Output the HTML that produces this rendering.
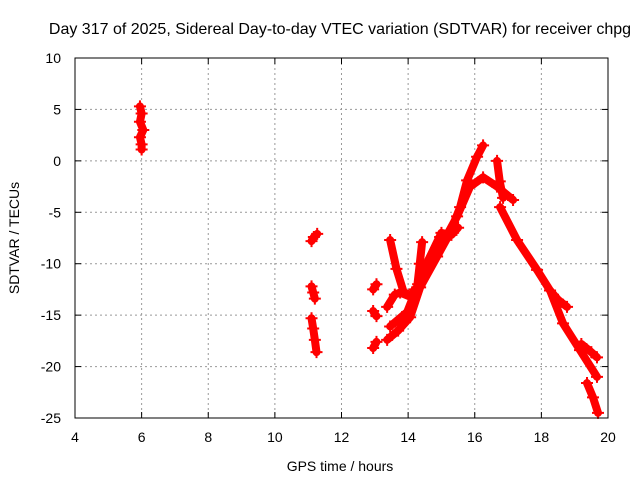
<!DOCTYPE html>
<html><head><meta charset="utf-8"><style>
body{margin:0;background:#fff}
svg{display:block;font-family:"Liberation Sans",sans-serif}
</style></head><body>
<svg id="c" width="640" height="480">
<rect width="640" height="480" fill="#fff"/>
<text x="340" y="34" font-size="16" text-anchor="middle">Day 317 of 2025, Sidereal Day-to-day VTEC variation (SDTVAR) for receiver chpg</text>
<g id="grid"></g><g id="data"></g>
<rect x="75" y="58" width="533" height="360" fill="none" stroke="#000" stroke-width="1"/>
<g id="ticks"></g>
<text x="340" y="471" font-size="14" text-anchor="middle">GPS time / hours</text>
<text transform="translate(19,238) rotate(-90)" font-size="14" text-anchor="middle">SDTVAR / TECUs</text>
</svg>
<script>
const xTicks=[4,6,8,10,12,14,16,18,20];
const yTicks=[10,5,0,-5,-10,-15,-20,-25];
const trackH6=[[5.95,5.3],[6.0,4.6],[5.95,3.8],[6.05,3.0],[5.95,2.3],[6.0,1.6],[6.0,1.1]];
const trackH11a=[[11.1,-7.8],[11.17,-7.4],[11.27,-7.1]];
const trackH11b=[[11.1,-12.2],[11.15,-12.8],[11.2,-13.4]];
const trackH11c=[[11.1,-15.3],[11.15,-16.3],[11.2,-17.4],[11.25,-18.6]];
const blob1=[[12.95,-12.5],[13.05,-12.0]];
const blob2=[[12.95,-14.6],[13.05,-15.1]];
const blob3=[[12.95,-18.2],[13.05,-17.6]];
const rise1=[[13.37,-17.4],[13.7,-16.5],[14.06,-15.2],[14.36,-12.3],[14.87,-9.3],[15.26,-7.0],[15.56,-4.5],[15.77,-1.9],[16.07,0.4],[16.25,1.5]];
const rise2=[[13.46,-16.1],[13.97,-14.7],[14.3,-12.0],[14.57,-9.9],[14.96,-7.4],[15.2,-7.0],[15.47,-5.4],[15.86,-2.5],[16.25,-1.6],[16.67,-2.5],[17.15,-3.8]];
const loop1=[[13.37,-14.2],[13.6,-13.0],[13.76,-12.8],[14.06,-13.2],[14.2,-12.5]];
const spike1=[[13.46,-7.7],[13.65,-10.5],[13.85,-12.6]];
const spike2=[[14.42,-7.9],[14.35,-10.0],[14.27,-12.3]];
const branchA=[[14.6,-9.7],[15.0,-7.0],[15.3,-7.2],[15.5,-6.5]];
const spike3=[[16.67,0.0],[16.75,-2.0],[16.85,-3.6]];
const fall=[[16.76,-4.5],[17.27,-7.7],[17.87,-10.6],[18.26,-12.6],[18.65,-15.8],[19.16,-18.4],[19.67,-21.0]];
const branchB=[[18.26,-12.6],[18.5,-13.5],[18.77,-14.2]];
const branchC=[[19.2,-17.8],[19.5,-18.6],[19.67,-19.1]];
const tail=[[19.37,-21.6],[19.55,-23.0],[19.7,-24.5]];
const tracks=[trackH6,trackH11a,trackH11b,trackH11c,blob1,blob2,blob3,rise1,rise2,loop1,spike1,spike2,branchA,spike3,fall,branchB,branchC,tail];
const X=h=>75+(h-4)*533/16, Y=v=>58+(10-v)*360/35;
const NS="http://www.w3.org/2000/svg";
const mk=(t,a,p)=>{const e=document.createElementNS(NS,t);for(const k in a)e.setAttribute(k,a[k]);p.appendChild(e);return e;};
const g=document.getElementById('grid'),tk=document.getElementById('ticks'),d=document.getElementById('data');
xTicks.forEach(t=>{const x=X(t);
 if(t>4&&t<20){const l=mk('line',{x1:x,x2:x,y1:58,y2:418,stroke:'#999','stroke-dasharray':'2,3'},g);
 
 }
 mk('line',{x1:x,x2:x,y1:418,y2:412,stroke:'#000'},tk);mk('line',{x1:x,x2:x,y1:58,y2:64,stroke:'#000'},tk);
 const s=mk('text',{x:x,y:442,'font-size':14,'text-anchor':'middle'},tk);s.textContent=t;
 
 });
yTicks.forEach(t=>{const y=Y(t);
 if(t<10&&t>-25){const l=mk('line',{x1:75,x2:608,y1:y,y2:y,stroke:'#999','stroke-dasharray':'2,3'},g);
 
 }
 mk('line',{x1:75,x2:81,y1:y,y2:y,stroke:'#000'},tk);mk('line',{x1:608,x2:602,y1:y,y2:y,stroke:'#000'},tk);
 const s=mk('text',{x:61,y:y+5,'font-size':14,'text-anchor':'end'},tk);s.textContent=t;
 
 });
tracks.forEach((tr,i)=>{
 const pl=mk('polyline',{points:tr.map(p=>X(p[0])+','+Y(p[1])).join(' '),fill:'none',stroke:'#f00','stroke-width':8,'stroke-linejoin':'round','stroke-linecap':'round'},d);
 
 
 tr.forEach(p=>{const x=X(p[0]),y=Y(p[1]);
  const m=mk('path',{d:`M${x-6},${y}H${x+6}M${x},${y-6}V${y+6}`,stroke:'#f00','stroke-width':2},d);
  
  });
});
</script>
</body></html>
